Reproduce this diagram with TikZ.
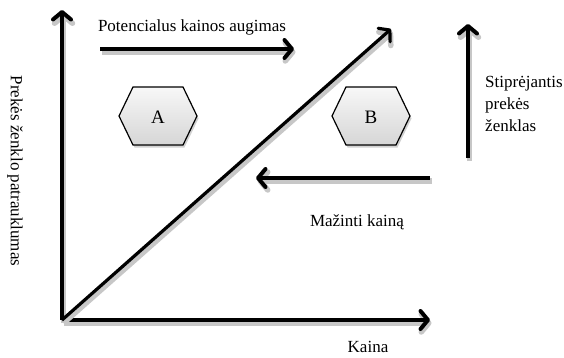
\documentclass[tikz,border=0pt]{standalone}
\usepackage{fontspec}
\setmainfont{Liberation Serif}
\usetikzlibrary{arrows.meta}
\begin{document}
\begin{tikzpicture}[x=1pt,y=-1pt,
  lbl/.style={font=\fontsize{17}{22}\selectfont, inner sep=0pt},
  shadowed/.style={preaction={draw=black!22, line width=5.5pt,
      transform canvas={shift={(1.5pt,-3pt)}}}},
  bigarrow/.style={line width=4pt, shadowed,
      -{Straight Barb[length=7.5pt,width=18pt,line cap=round,round]}},
  hexa/.pic={
    \shade[top color=gray!6, bottom color=gray!32, draw=black, line width=1.2pt,
      line join=miter, preaction={fill=black!18, transform canvas={shift={(1.5pt,-2.5pt)}}}]
      (-39,0) -- (-25,-29) -- (25,-29) -- (39,0) -- (25,29) -- (-25,29) -- cycle;
  }]
\useasboundingbox (0,0) rectangle (564,357);

% axes and their end points
\coordinate (O) at (62,320);
\coordinate (ytop) at (62,10);
\coordinate (xend) at (430,320);
\coordinate (dend) at (391,29);
\draw[bigarrow] (O) -- (ytop);
\draw[bigarrow] (O) -- (xend);
\draw[bigarrow, line width=3.2pt] (O) -- (dend);

% direction arrows
\coordinate (ps) at (100,49);
\coordinate (pe) at (294,49);
\draw[bigarrow] (ps) -- (pe);
\coordinate (ss) at (468,158);
\coordinate (se) at (468,24);
\draw[bigarrow] (ss) -- (se);
\coordinate (ms) at (430,178);
\coordinate (me) at (256,178);
\draw[bigarrow] (ms) -- (me);

% segments
\pic at (158,116) {hexa};
\node[font=\fontsize{19}{22}\selectfont] (A) at (158,117) {A};
\pic at (371,116) {hexa};
\node[font=\fontsize{19}{22}\selectfont] (B) at (371,117) {B};

% labels
\node[lbl] (pot) at (192,27) {Potencialus kainos augimas};
\node[lbl, anchor=west, align=left] (stip) at (485,104)
  {Stiprėjantis\\prekės\\ženklas};
\node[lbl] (maz) at (357,222) {Mažinti kainą};
\node[lbl] (kaina) at (368,347) {Kaina};
\node[lbl, rotate=-90] (ylab) at (15,171) {Prekės ženklo patrauklumas};
\end{tikzpicture}
\end{document}
